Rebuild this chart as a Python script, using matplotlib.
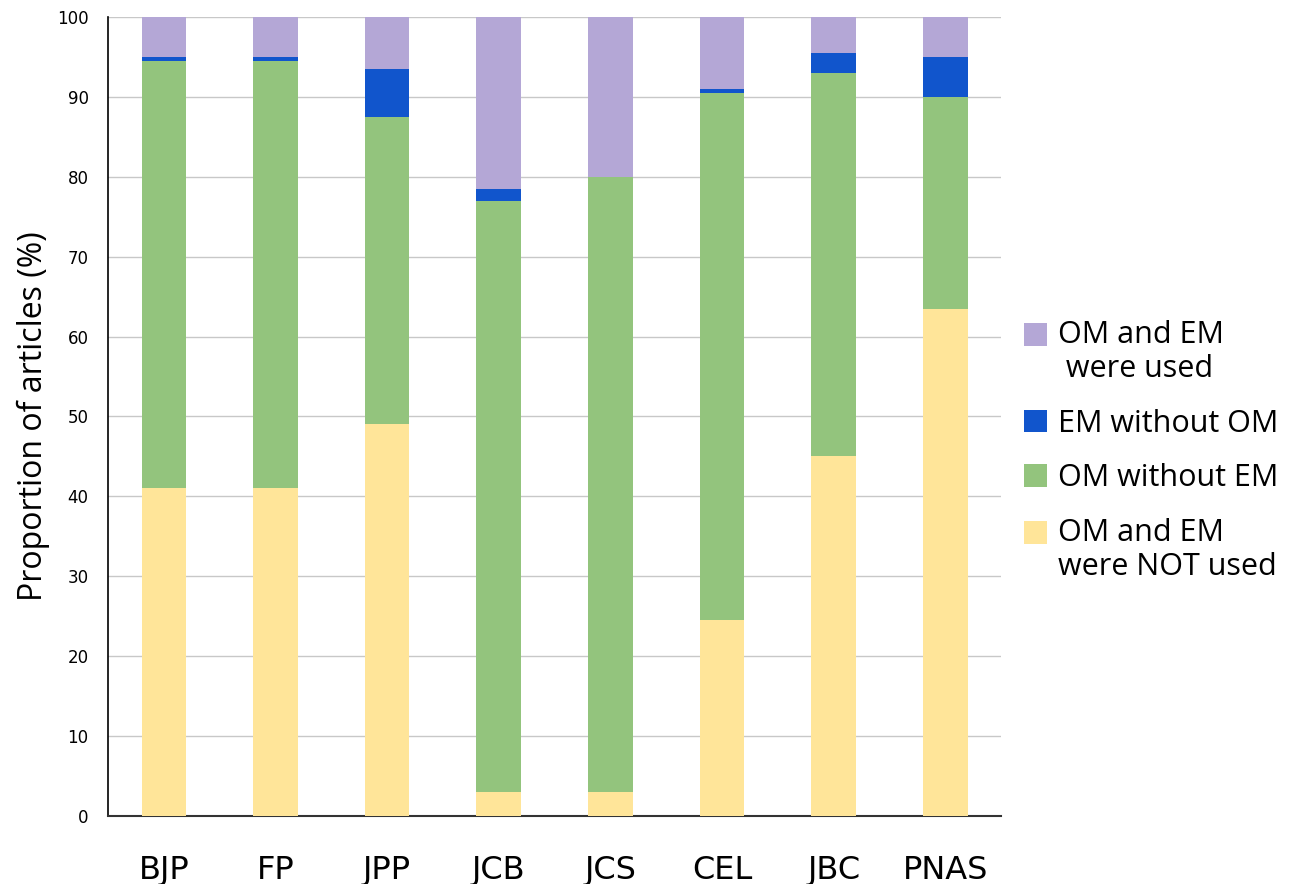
import matplotlib
matplotlib.use('Agg')
import matplotlib.pyplot as plt
import numpy as np
from matplotlib.patches import Patch, Rectangle
from matplotlib.legend_handler import HandlerPatch

# Dados (valores em %)
journals = ['BJP', 'FP', 'JPP', 'JCB', 'JCS', 'CEL', 'JBC', 'PNAS']
not_used = [41, 41, 49, 3, 3, 24.5, 45, 63.5]
om_without_em = [53.5, 53.5, 38.5, 74, 77, 66, 48, 26.5]
em_without_om = [0.5, 0.5, 6, 1.5, 0, 0.5, 2.5, 5]
both_used = [5, 5, 6.5, 21.5, 20, 9, 4.5, 5]

series_labels = ['OM and EM\nwere NOT used', 'OM without EM', 'EM without OM', 'OM and EM\n were used']
colors = ['#FFE599', '#93C47D', '#1155CC', '#B4A7D6']

narrow = ['Liberation Sans Narrow', 'DejaVu Sans']
legend_font = ['Open Sans', 'DejaVu Sans']

fig = plt.figure(figsize=(13.06, 8.84), dpi=100)
ax = fig.add_axes([0.0827, 0.0769, 0.684, 0.904])

x = np.arange(len(journals))
bottom = np.zeros(len(journals))
for vals, col in zip([not_used, om_without_em, em_without_om, both_used], colors):
    ax.bar(x, vals, width=0.4, bottom=bottom, color=col, zorder=3)
    bottom += np.array(vals)

ax.set_xlim(-0.5, len(journals) - 0.5)
ax.set_ylim(0, 100)
ax.set_yticks(np.arange(0, 101, 10))
ax.yaxis.grid(True, color='#c8c8c8', linewidth=1, zorder=0)
ax.set_axisbelow(True)

ax.set_xticks(x)
ax.set_xticklabels(journals, fontsize=23, family=narrow)
for lbl in ax.get_yticklabels():
    lbl.set_fontfamily(narrow)
    lbl.set_fontsize(12)
ax.tick_params(axis='x', length=0, pad=28)
ax.tick_params(axis='y', length=0, pad=14)

ax.spines['top'].set_visible(False)
ax.spines['right'].set_visible(False)
ax.spines['left'].set_color('black')
ax.spines['left'].set_linewidth(1.2)
ax.spines['bottom'].set_color('#333333')
ax.spines['bottom'].set_linewidth(1.5)

ax.set_ylabel('Proportion of articles (%)', fontsize=23, family=legend_font, labelpad=5)


# quadrado alinhado com a primeira linha do texto
def make_square(legend, orig_handle, xdescent, ydescent, width, height, fontsize):
    shift = 0
    if orig_handle.get_label() == 'multi':
        shift = 0.6 * fontsize
    return Rectangle((-xdescent, -ydescent + shift), width, height)


handles = []
for c, lab in zip(colors, series_labels):
    handles.append(Patch(facecolor=c, edgecolor='none', label='multi' if '\n' in lab else 'single'))
handles = handles[::-1]
labels = series_labels[::-1]
leg = fig.legend(handles, labels, loc='center left', bbox_to_anchor=(0.763, 0.49),
                 frameon=False, prop={'family': legend_font, 'size': 22},
                 handlelength=0.75, handleheight=0.75, handletextpad=0.35,
                 labelspacing=0.8,
                 handler_map={Patch: HandlerPatch(patch_func=make_square)})

plt.savefig('out.png', dpi=100)
